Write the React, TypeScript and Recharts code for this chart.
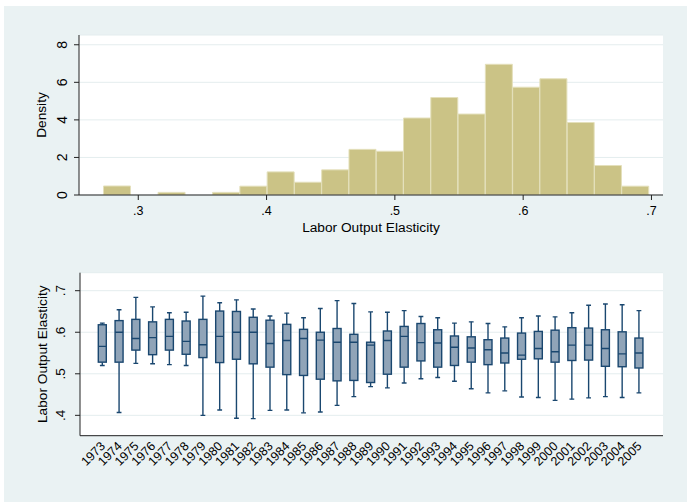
import React from "react";
import { ComposedChart, BarChart, Bar, Line, XAxis, YAxis, CartesianGrid, Label } from "recharts";

// histogram: bin centres and density
const histBins = [
  0.2835, 0.3048, 0.3261, 0.3473, 0.3686, 0.3898, 0.4111, 0.4324, 0.4536, 0.4749,
  0.4962, 0.5174, 0.5387, 0.56, 0.5812, 0.6025, 0.6237, 0.645, 0.6663, 0.6875,
];
const histDensity = [
  0.48, 0, 0.14, 0, 0.14, 0.47, 1.23, 0.68, 1.34, 2.43,
  2.33, 4.1, 5.19, 4.31, 6.96, 5.74, 6.19, 3.86, 1.57, 0.47,
];
const densityTicks = [0, 2, 4, 6, 8];
const elasticityTicks = [0.3, 0.4, 0.5, 0.6, 0.7];

// box plot by year
const years = [
  1973, 1974, 1975, 1976, 1977, 1978, 1979, 1980, 1981, 1982, 1983, 1984, 1985, 1986, 1987, 1988, 1989,
  1990, 1991, 1992, 1993, 1994, 1995, 1996, 1997, 1998, 1999, 2000, 2001, 2002, 2003, 2004, 2005,
];
const whiskerLow = [
  0.52, 0.407, 0.525, 0.524, 0.522, 0.52, 0.4, 0.413, 0.393, 0.392, 0.412, 0.413, 0.406, 0.408, 0.424, 0.445, 0.469,
  0.466, 0.478, 0.488, 0.491, 0.482, 0.464, 0.454, 0.459, 0.444, 0.443, 0.436, 0.439, 0.442, 0.445, 0.443, 0.454,
];
const boxQ1 = [
  0.528, 0.528, 0.557, 0.546, 0.557, 0.547, 0.539, 0.527, 0.535, 0.524, 0.516, 0.498, 0.496, 0.487, 0.483, 0.484, 0.479,
  0.499, 0.516, 0.531, 0.516, 0.52, 0.528, 0.522, 0.526, 0.535, 0.536, 0.528, 0.532, 0.533, 0.518, 0.517, 0.514,
];
const boxMedian = [
  0.566, 0.6, 0.585, 0.587, 0.59, 0.578, 0.57, 0.59, 0.6, 0.6, 0.573, 0.58, 0.585, 0.581, 0.576, 0.576, 0.569,
  0.58, 0.59, 0.575, 0.574, 0.564, 0.562, 0.558, 0.55, 0.545, 0.561, 0.553, 0.569, 0.569, 0.561, 0.548, 0.55,
];
const boxQ3 = [
  0.618, 0.628, 0.631, 0.625, 0.631, 0.627, 0.631, 0.651, 0.65, 0.636, 0.629, 0.619, 0.607, 0.6, 0.609, 0.595, 0.576,
  0.603, 0.614, 0.621, 0.606, 0.591, 0.589, 0.582, 0.586, 0.598, 0.602, 0.605, 0.611, 0.61, 0.606, 0.601, 0.586,
];
const whiskerHigh = [
  0.622, 0.654, 0.684, 0.661, 0.647, 0.648, 0.687, 0.671, 0.678, 0.656, 0.639, 0.646, 0.635, 0.657, 0.676, 0.669, 0.649,
  0.648, 0.652, 0.638, 0.635, 0.622, 0.625, 0.621, 0.613, 0.635, 0.639, 0.637, 0.647, 0.665, 0.668, 0.666, 0.652,
];
const elasticityBoxTicks = [0.4, 0.5, 0.6, 0.7];

const FONT = "'Liberation Sans', Arial, Helvetica, sans-serif";
const BG = "#EAF2F3";
const NAVY = "#1A476F";
const AXIS = "#222";

const histData = histBins.map((b, i) => ({ bin: b, density: histDensity[i] }));
const boxData = years.map((yr, i) => ({
  year: String(yr),
  lo: whiskerLow[i],
  q1: boxQ1[i],
  med: boxMedian[i],
  q3: boxQ3[i],
  hi: whiskerHigh[i],
}));

const dotFmt = (v: number) => v.toFixed(1).replace(/^0/, "");

const VTick = (props: any) => {
  const { x, y, payload, fontSize, fmt } = props;
  return (
    <text
      x={x}
      y={y}
      dy="0.36em"
      transform={`rotate(-90 ${x} ${y})`}
      textAnchor="middle"
      fontSize={fontSize}
      fontFamily={FONT}
      fill="#000"
    >
      {fmt(payload.value)}
    </text>
  );
};

const YearTick = (props: any) => {
  const { x, y, payload } = props;
  return (
    <text
      x={x}
      y={y}
      dy="0.36em"
      transform={`rotate(-45 ${x} ${y})`}
      textAnchor="end"
      fontSize={12.5}
      fontFamily={FONT}
      fill="#000"
    >
      {payload.value}
    </text>
  );
};

// box drawn inside the [lo, hi] range bar, positions interpolated from the bar's own pixels
const BoxShape = (props: any) => {
  const { x, y, width, height, payload } = props;
  const top = Math.min(y, y + height);
  const bottom = Math.max(y, y + height);
  const span = payload.hi - payload.lo;
  const py = (v: number) => bottom - ((v - payload.lo) / span) * (bottom - top);
  const cx = x + width / 2;
  const cap = width * 0.3;
  return (
    <g>
      <line x1={cx} x2={cx} y1={py(payload.hi)} y2={py(payload.q3)} stroke={NAVY} strokeWidth={1.4} />
      <line x1={cx} x2={cx} y1={py(payload.q1)} y2={py(payload.lo)} stroke={NAVY} strokeWidth={1.4} />
      <line x1={cx - cap} x2={cx + cap} y1={py(payload.hi)} y2={py(payload.hi)} stroke={NAVY} strokeWidth={1.4} />
      <line x1={cx - cap} x2={cx + cap} y1={py(payload.lo)} y2={py(payload.lo)} stroke={NAVY} strokeWidth={1.4} />
      <rect
        x={x}
        y={py(payload.q3)}
        width={width}
        height={py(payload.q1) - py(payload.q3)}
        fill="#90A4B8"
        stroke={NAVY}
        strokeWidth={1.4}
      />
      <line x1={x} x2={x + width} y1={py(payload.med)} y2={py(payload.med)} stroke={NAVY} strokeWidth={1.4} />
    </g>
  );
};

export default function App() {
  return (
    <div style={{ position: "absolute", left: 0, top: 0, width: 687, height: 502, background: "#fff", overflow: "hidden" }}>
      <div style={{ position: "absolute", left: 4, top: 6, width: 683, height: 496, background: BG }} />

      <div style={{ position: "absolute", left: 0, top: 0 }}>
        <ComposedChart
          width={687}
          height={250}
          data={histData}
          margin={{ top: 35, right: 24, bottom: 0, left: 0 }}
          barCategoryGap={0}
          barGap={0}
        >
          <CartesianGrid xAxisId="num" vertical={false} stroke="#E4EDEE" fill="#fff" />
          <XAxis
            xAxisId="bins"
            dataKey="bin"
            type="category"
            hide
            height={0}
            padding={{ left: 24.5, right: 14 }}
          />
          <XAxis
            xAxisId="num"
            dataKey="bin"
            type="number"
            domain={[0.2538, 0.709]}
            allowDataOverflow
            ticks={elasticityTicks}
            tickFormatter={dotFmt}
            height={55}
            tickSize={5}
            tickMargin={5.7}
            stroke={AXIS}
            tick={{ fontSize: 12.5, fontFamily: FONT, fill: "#000" }}
          >
            <Label
              value="Labor Output Elasticity"
              position="insideBottom"
              offset={18.3}
              style={{ fontSize: 13.7, fontFamily: FONT, fill: "#000" }}
            />
          </XAxis>
          <YAxis
            type="number"
            domain={[0, 8.52]}
            allowDataOverflow
            ticks={densityTicks}
            width={79}
            tickSize={5}
            tickMargin={12.3}
            stroke={AXIS}
            tick={<VTick fontSize={14} fmt={(v: number) => String(v)} />}
          >
            <Label
              value="Density"
              angle={-90}
              position="center"
              dx={1.5}
              style={{ fontSize: 13.7, fontFamily: FONT, fill: "#000" }}
            />
          </YAxis>
          <Bar
            xAxisId="bins"
            dataKey="density"
            fill="#CBC386"
            stroke="#E4E0BC"
            strokeWidth={1}
            isAnimationActive={false}
          />
          {/* invisible series that ties the numeric axis to the data */}
          <Line
            xAxisId="num"
            dataKey="density"
            stroke="none"
            dot={false}
            activeDot={false}
            isAnimationActive={false}
          />
        </ComposedChart>
      </div>

      <div style={{ position: "absolute", left: 0, top: 250 }}>
        <BarChart
          width={687}
          height={252}
          data={boxData}
          margin={{ top: 22.7, right: 24, bottom: 0, left: 0 }}
          barSize={8}
        >
          <CartesianGrid vertical={false} stroke="#E4EDEE" fill="#fff" />
          <XAxis
            dataKey="year"
            type="category"
            interval={0}
            height={66.3}
            tickLine={false}
            padding={{ left: 14.3, right: 15.3 }}
            stroke={AXIS}
            tick={<YearTick />}
          />
          <YAxis
            type="number"
            domain={[0.351, 0.7433]}
            allowDataOverflow
            ticks={elasticityBoxTicks}
            width={80}
            tickSize={5}
            tickMargin={15}
            stroke={AXIS}
            tick={<VTick fontSize={13.5} fmt={dotFmt} />}
          >
            <Label
              value="Labor Output Elasticity"
              angle={-90}
              position="center"
              dx={1.7}
              style={{ fontSize: 13.7, fontFamily: FONT, fill: "#000" }}
            />
          </YAxis>
          <Bar
            dataKey={(d: any) => [d.lo, d.hi]}
            shape={<BoxShape />}
            isAnimationActive={false}
          />
        </BarChart>
      </div>
    </div>
  );
}
